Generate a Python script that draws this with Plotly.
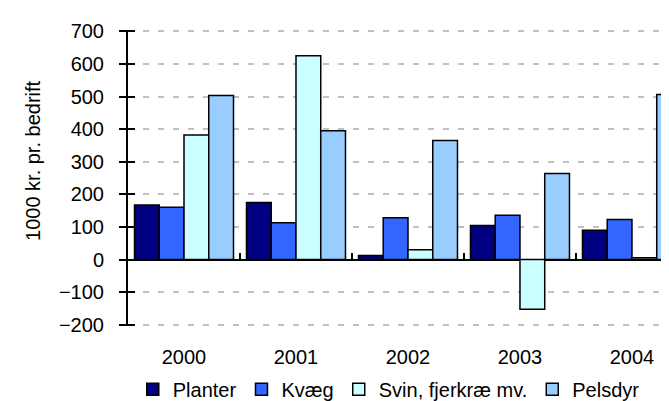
import plotly.graph_objects as go

years = ["2000", "2001", "2002", "2003", "2004"]

planter = [167, 175, 12, 104, 90]
kvaeg = [160, 113, 128, 136, 123]
svin = [382, 625, 30, -153, 5]
pelsdyr = [503, 395, 365, 264, 506]

series_names = ["Planter", "Kvæg", "Svin, fjerkræ mv.", "Pelsdyr"]
series_colors = ["#000080", "#3366FF", "#CCFFFF", "#99CCFF"]

FONT = "Liberation Sans, Arial, sans-serif"
xpos = list(range(len(years)))

fig = go.Figure()
for name, vals, col in zip(series_names, [planter, kvaeg, svin, pelsdyr], series_colors):
    fig.add_trace(go.Bar(x=xpos, y=vals, name=name,
                         marker=dict(color=col, line=dict(color="black", width=1.5))))

# empty trace so the overlay axes (crossing ticks, year labels) get drawn
fig.add_trace(go.Scatter(x=[], y=[], xaxis="x2", yaxis="y2", showlegend=False, hoverinfo="skip"))

xrange = [-0.5, 4.402]
yrange = [-204, 704]
yticks = list(range(-200, 701, 100))

fig.update_layout(
    width=669, height=401,
    margin=dict(l=120, r=0, t=22, b=73),
    paper_bgcolor="white", plot_bgcolor="white",
    font=dict(family=FONT, size=20, color="black"),
    barmode="group", bargap=0.116, bargroupgap=0,
    showlegend=True,
    legend=dict(orientation="h", x=0.475, xanchor="center", y=-0.214, yanchor="middle",
                font=dict(size=20), itemwidth=30, traceorder="normal"),
    xaxis=dict(range=xrange, anchor="free", position=204/908,
               tickmode="array", tickvals=[0.5, 1.5, 2.5, 3.5],
               ticks="inside", ticklen=6, tickwidth=2, tickcolor="black",
               showticklabels=False, showgrid=False, zeroline=False, showline=False),
    yaxis=dict(range=yrange, tickmode="array", tickvals=yticks,
               ticks="outside", ticklen=7, tickwidth=2, tickcolor="black",
               showline=True, linecolor="black", linewidth=2,
               showgrid=True, gridcolor="#C0C0C0", gridwidth=2, griddash="6px,9px",
               zeroline=True, zerolinecolor="black", zerolinewidth=2,
               ticklabelstandoff=11),
    xaxis2=dict(range=xrange, overlaying="x", anchor="y2", side="bottom",
                tickmode="array", tickvals=xpos, ticktext=years,
                ticks="", showgrid=False, zeroline=False, showline=False,
                ticklabelstandoff=17),
    yaxis2=dict(range=yrange, overlaying="y", anchor="x2", side="left",
                tickmode="array", tickvals=yticks,
                ticks="inside", ticklen=7, tickwidth=2, tickcolor="black",
                showticklabels=False, showgrid=False, zeroline=False, showline=False),
    annotations=[dict(text="1000 kr. pr. bedrift", xref="paper", yref="paper",
                      x=-0.173, y=0.5576, xanchor="center", yanchor="middle",
                      textangle=-90, showarrow=False, font=dict(size=20))],
)

fig.write_html("out.html")
